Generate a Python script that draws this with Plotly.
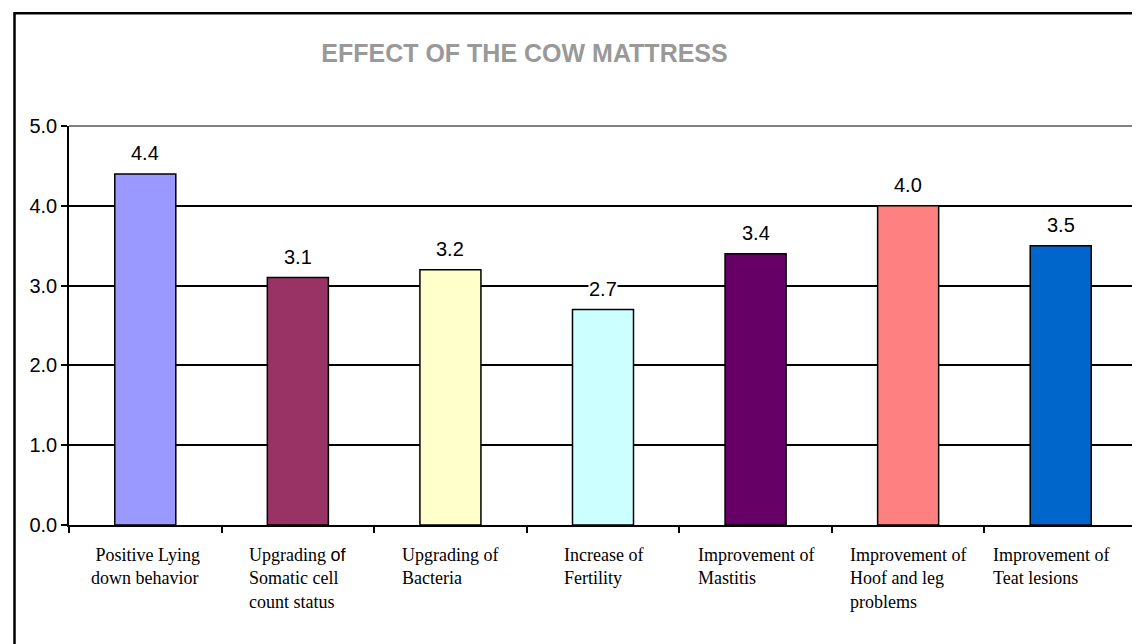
import plotly.graph_objects as go

categories = [
    "\u00a0Positive Lying<br>down behavior",
    "Upgrading <span style='font-family:Liberation Sans, Arial'>of</span><br>Somatic cell<br>count status",
    "Upgrading of<br>Bacteria",
    "Increase of<br>Fertility",
    "Improvement of<br>Mastitis",
    "Improvement of<br>Hoof and leg<br>problems",
    "Improvement of<br>Teat lesions",
]
values = [4.4, 3.1, 3.2, 2.7, 3.4, 4.0, 3.5]
colors = ["#9999FF", "#993366", "#FFFFCC", "#CCFFFF", "#660066", "#FF8080", "#0066CC"]
y_ticks = [0.0, 1.0, 2.0, 3.0, 4.0, 5.0]
title_text = "EFFECT OF THE COW MATTRESS"

W, H = 1140, 644
L, R, T, B = 61, 11, 118, 127
pw, ph = W - L - R, H - T - B

SANS = "Arial, Liberation Sans, sans-serif"
SERIF = "Times New Roman, Liberation Serif, serif"

fig = go.Figure()
fig.add_trace(go.Bar(
    x=categories, y=values, width=0.4,
    marker=dict(color=colors, line=dict(color="black", width=1.5)),
    hoverinfo="skip",
))

# small horizontal nudges of category label blocks (layout styling)
label_nudge = {6: -10}

annotations = []
for i, (c, v) in enumerate(zip(categories, values)):
    annotations.append(dict(
        x=c, y=v, xref="x", yref="y", text=f"{v:.1f}", showarrow=False,
        yanchor="middle", yshift=21, bgcolor="white", borderpad=0,
        font=dict(family=SANS, size=20, color="black"),
    ))
    annotations.append(dict(
        x=c, y=0, xref="x", yref="paper", text=c, showarrow=False,
        xanchor="center", yanchor="top", yshift=-18, xshift=label_nudge.get(i, 0),
        align="left",
        font=dict(family=SERIF, size=18, color="black"),
    ))

shapes = [
    # outer chart border (top and left visible)
    dict(type="rect", xref="paper", yref="paper",
         x0=(6.5 - L) / pw, x1=(W + 20 - L) / pw,
         y0=-(B + 20) / ph, y1=(H - B - 5.3) / ph,
         line=dict(color="black", width=2.5), layer="above"),
    # gray top and right plot borders
    dict(type="line", xref="paper", yref="paper", x0=0, x1=1, y0=1, y1=1,
         line=dict(color="#808080", width=2), layer="above"),
    dict(type="line", xref="paper", yref="paper", x0=1, x1=1, y0=0, y1=1,
         line=dict(color="#808080", width=2), layer="above"),
]

fig.update_layout(
    width=W, height=H,
    margin=dict(l=L, r=R, t=T, b=B, pad=0),
    paper_bgcolor="white", plot_bgcolor="white",
    showlegend=False,
    title=dict(text=f"<b>{title_text}</b>", x=516.5 / W, xref="container", xanchor="center",
               y=1 - 45 / H, yref="container", yanchor="middle",
               font=dict(family=SANS, size=25, color="#999999")),
    annotations=annotations,
    shapes=shapes,
    bargap=0.6,
)
fig.update_xaxes(
    type="category", showticklabels=False, ticks="outside", tickson="boundaries",
    ticklen=6, tickwidth=1.5, tickcolor="black",
    showline=True, linecolor="black", linewidth=1.5, showgrid=False, zeroline=False,
)
fig.update_yaxes(
    range=[0, 5], tickvals=y_ticks, ticktext=[f"{t:.1f}" for t in y_ticks],
    ticks="outside", ticklen=6, tickwidth=1.5, tickcolor="black",
    showline=True, linecolor="black", linewidth=1.5,
    showgrid=True, gridcolor="black", gridwidth=1.5, zeroline=False,
    tickfont=dict(family=SANS, size=20, color="black"),
)

fig.write_html("out.html")
